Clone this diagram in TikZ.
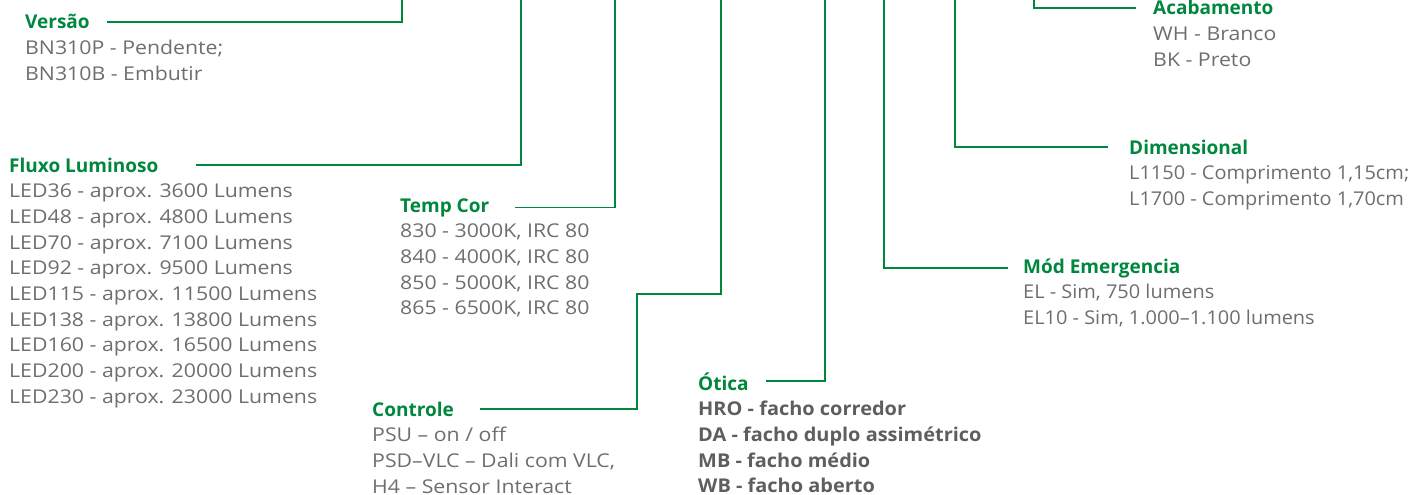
\documentclass[tikz,border=0pt]{standalone}
\usepackage{fontspec}
\setmainfont{Open Sans}[FakeStretch=1.12]
\newfontfamily\headfont{Open Sans}
\newfontfamily\tightfont{Open Sans}[FakeStretch=1.05]
\usetikzlibrary{calc}
\definecolor{codegreen}{HTML}{00873E}
\definecolor{codegrey}{HTML}{6E6E6E}
\definecolor{codedark}{HTML}{5E5E5E}
\newcommand{\FTitle}{\headfont\fontsize{19}{22}\selectfont\bfseries}
\newcommand{\FItem}{\fontsize{19}{22}\selectfont}
\newcommand{\FTight}{\tightfont\fontsize{19}{22}\selectfont}
\newcommand{\pitch}{25.7}

\begin{document}
\begin{tikzpicture}[x=1pt, y=1pt,
  lead/.style={draw=codegreen, line width=1.8pt},
  title/.style={anchor=base west, inner sep=0pt, text=codegreen, font=\FTitle},
  item/.style={anchor=base west, inner sep=0pt, text=codegrey, font=\FItem},
  tightitem/.style={item, font=\FTight},
  bolditem/.style={item, text=codedark, font=\FTight\bfseries}
]
\useasboundingbox (0,0) rectangle (1413,-495);

% Headings, placed on their base lines.
\node[title] (versao) at (25,-29) {Versão};
\node[title] (fluxo) at (9,-172) {Fluxo Luminoso};
\node[title] (temp) at (400,-212) {Temp Cor};
\node[title] (controle) at (372,-416) {Controle};
\node[title] (otica) at (698,-390) {Ótica};
\node[title] (emerg) at (1023,-273) {Mód Emergencia};
\node[title] (dimen) at (1129,-154) {Dimensional};
\node[title] (acab) at (1153,-15) {Acabamento};

% Options under each heading.
\foreach \t [count=\i] in {BN310P - Pendente;, BN310B - Embutir}
  \node[item] (versao-\i) at ($(versao.base west)+(0,-\pitch*\i)$) {\t};
\foreach \t [count=\i] in {LED36 - aprox. 3600 Lumens, LED48 - aprox. 4800 Lumens,
    LED70 - aprox. 7100 Lumens, LED92 - aprox. 9500 Lumens,
    LED115 - aprox. 11500 Lumens, LED138 - aprox. 13800 Lumens,
    LED160 - aprox. 16500 Lumens, LED200 - aprox. 20000 Lumens,
    LED230 - aprox. 23000 Lumens}
  \node[item] (fluxo-\i) at ($(fluxo.base west)+(0,-\pitch*\i)$) {\t};
\foreach \t [count=\i] in {{830 - 3000K, IRC 80}, {840 - 4000K, IRC 80},
    {850 - 5000K, IRC 80}, {865 - 6500K, IRC 80}}
  \node[item] (temp-\i) at ($(temp.base west)+(0,-\pitch*\i)$) {\t};
\foreach \t [count=\i] in {PSU – on / off, {PSD–VLC – Dali com VLC,}, H4 – Sensor Interact}
  \node[item] (controle-\i) at ($(controle.base west)+(0,-\pitch*\i)$) {\t};
\foreach \t [count=\i] in {HRO - facho corredor, DA - facho duplo assimétrico,
    MB - facho médio, WB - facho aberto}
  \node[bolditem] (otica-\i) at ($(otica.base west)+(0,-\pitch*\i)$) {\t};
\foreach \t [count=\i] in {{EL - Sim, 750 lumens}, {EL10 - Sim, 1.000–1.100 lumens}}
  \node[tightitem] (emerg-\i) at ($(emerg.base west)+(0,-\pitch*\i)$) {\t};
\foreach \t [count=\i] in {{L1150 - Comprimento 1,15cm;}, {L1700 - Comprimento 1,70cm}}
  \node[tightitem] (dimen-\i) at ($(dimen.base west)+(0,-\pitch*\i)$) {\t};
\foreach \t [count=\i] in {WH - Branco, BK - Preto}
  \node[item] (acab-\i) at ($(acab.base west)+(0,-\pitch*\i)$) {\t};

% Leader ends on the top edge.
\coordinate (versaoTop) at (402,0);
\coordinate (fluxoTop) at (521,0);
\coordinate (tempTop) at (615,0);
\coordinate (controleBend) at (637,-294);
\coordinate (controleTop) at (721,0);
\coordinate (oticaTop) at (825,0);
\coordinate (emergTop) at (884,0);
\coordinate (dimenTop) at (955,0);
\coordinate (acabTop) at (1034,0);

% Leaders.
\draw[lead, shorten <=17] (versao.east) -| (versaoTop);
\draw[lead, shorten <=37] (fluxo.east) -| (fluxoTop);
\draw[lead, shorten <=26] (temp.east) -| (tempTop);
\draw[lead, shorten <=26] (controle.east) -| (controleBend) -| (controleTop);
\draw[lead, shorten <=17] (otica.east) -| (oticaTop);
\draw[lead, shorten <=15] (emerg.west) -| (emergTop);
\draw[lead, shorten <=21] (dimen.west) -| (dimenTop);
\draw[lead, shorten <=17] (acab.west) -| (acabTop);
\end{tikzpicture}
\end{document}
